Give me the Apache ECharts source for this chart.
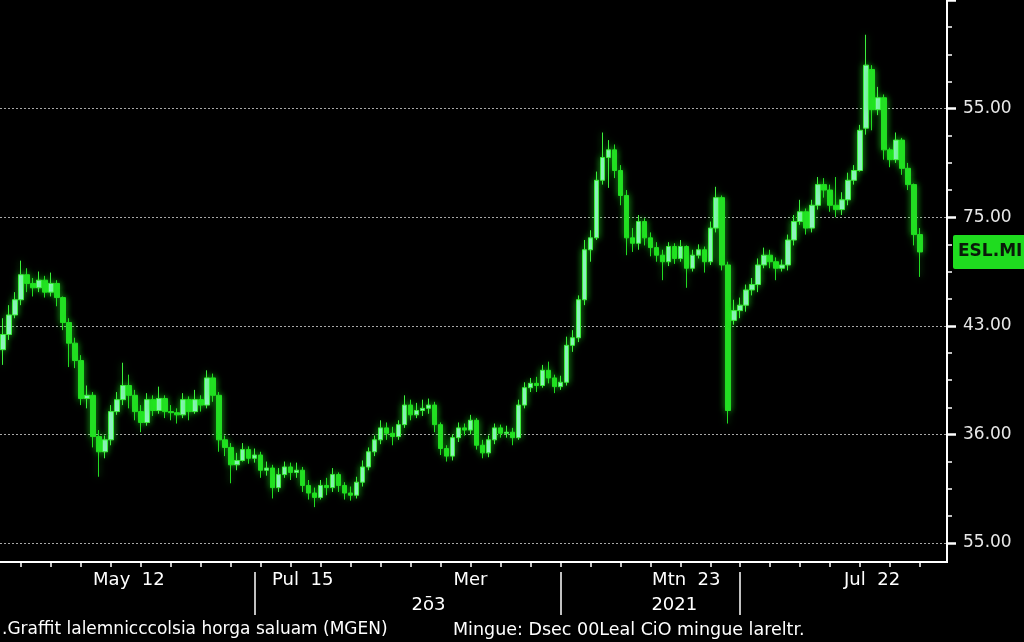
<!DOCTYPE html>
<html><head><meta charset="utf-8">
<script src="https://cdn.jsdelivr.net/npm/echarts@6/dist/echarts.min.js"></script>
<style>html,body{margin:0;padding:0;background:#000;}#c{width:1024px;height:642px;}</style>
</head><body><div id="c"></div>
<script>
const opens = [27.8,29.2,31.0,32.4,34.7,33.9,33.5,34.2,33.1,33.9,
32.6,30.3,28.4,26.8,23.3,23.6,19.8,18.4,19.5,22.1,
23.2,24.5,23.6,22.1,21.1,23.2,22.2,23.3,22.1,22.0,
21.8,23.2,22.1,23.2,22.7,25.2,23.6,19.5,18.8,17.2,
17.6,18.6,17.8,18.1,16.7,16.9,15.1,16.3,17.0,16.5,
16.7,15.3,14.6,14.2,15.3,15.1,16.3,15.3,14.6,14.4,
15.6,17.0,18.4,19.5,20.6,20.1,19.8,20.9,22.7,21.8,
22.2,22.4,22.7,20.9,18.7,18.0,19.7,20.6,20.4,21.3,
19.0,18.3,19.5,20.6,20.1,20.2,19.7,22.7,24.3,24.7,
24.5,25.9,25.2,24.4,24.8,28.2,28.9,32.4,37.0,38.1,
43.4,45.5,46.2,44.3,42.0,38.1,37.6,39.6,38.1,37.2,
36.5,35.9,37.3,36.2,37.3,35.3,36.5,37.0,35.9,39.0,
41.8,35.6,30.5,31.4,31.9,33.3,33.8,35.6,36.5,35.9,
35.3,35.6,37.9,39.6,40.5,39.0,41.1,43.0,42.5,41.1,
40.7,41.6,43.4,44.3,48.2,53.6,49.9,51.0,46.2,45.3,
47.1,44.5,43.0,38.4];
const closes = [29.2,31.0,32.4,34.7,33.9,33.5,34.2,33.1,33.9,32.6,
30.3,28.4,26.8,23.3,23.6,19.8,18.4,19.5,22.1,23.2,
24.5,23.6,22.1,21.1,23.2,22.2,23.3,22.1,22.0,21.8,
23.2,22.1,23.2,22.7,25.2,23.6,19.5,18.8,17.2,17.6,
18.6,17.8,18.1,16.7,16.9,15.1,16.3,17.0,16.5,16.7,
15.3,14.6,14.2,15.3,15.1,16.3,15.3,14.6,14.4,15.6,
17.0,18.4,19.5,20.6,20.1,19.8,20.9,22.7,21.8,22.2,
22.4,22.7,20.9,18.7,18.0,19.7,20.6,20.4,21.3,19.0,
18.3,19.5,20.6,20.1,20.2,19.7,22.7,24.3,24.7,24.5,
25.9,25.2,24.4,24.8,28.2,28.9,32.4,37.0,38.1,43.4,
45.5,46.2,44.3,42.0,38.1,37.6,39.6,38.1,37.2,36.5,
35.9,37.3,36.2,37.3,35.3,36.5,37.0,35.9,39.0,41.8,
35.6,22.2,31.4,31.9,33.3,33.8,35.6,36.5,35.9,35.3,
35.6,37.9,39.6,40.5,39.0,41.1,43.0,42.5,41.1,40.7,
41.6,43.4,44.3,48.0,54.0,49.9,51.0,46.2,45.3,47.1,
44.5,43.0,38.4,36.8];
const lows = [26.4,28.7,30.7,31.9,33.1,32.7,33.1,32.6,32.7,31.8,
29.6,26.2,26.1,22.7,22.4,18.8,16.1,17.8,19.0,21.8,
22.7,22.4,21.3,20.2,20.8,21.7,21.9,21.5,21.3,21.0,
21.5,21.3,21.9,22.1,22.4,23.0,18.4,18.0,15.5,16.7,
17.5,17.3,17.4,16.0,16.2,14.1,14.7,16.0,15.8,16.0,
14.7,14.0,13.3,14.0,14.4,14.7,14.7,14.0,13.9,14.1,
15.2,16.7,18.0,19.1,19.5,19.0,19.5,20.6,21.3,21.5,
21.7,21.9,20.2,18.1,17.5,17.6,19.3,19.9,20.0,18.6,
17.8,17.9,19.1,19.7,19.7,19.0,19.5,22.4,23.9,23.9,
24.3,24.7,23.8,24.1,24.5,27.6,28.5,31.9,35.9,37.9,
43.0,42.7,43.6,41.1,36.5,36.8,37.0,37.4,36.4,35.9,
34.2,35.5,35.7,35.9,33.5,35.0,36.2,34.9,35.6,38.6,
35.1,21.0,30.1,30.7,31.3,32.8,33.1,35.3,35.3,34.2,
35.0,35.1,37.4,39.3,38.4,38.6,40.7,41.8,40.5,40.0,
40.2,41.1,43.0,44.2,47.6,48.0,49.4,45.3,44.6,45.0,
43.9,42.5,37.4,34.5];
const highs = [30.7,31.9,33.1,36.0,35.3,34.4,35.0,34.6,34.9,34.2,
32.7,30.7,28.9,27.3,24.5,23.9,20.4,19.9,22.7,23.9,
26.6,25.5,24.1,22.7,23.8,23.6,24.4,23.6,22.7,22.4,
23.8,23.5,24.1,23.6,25.9,25.6,23.9,19.9,19.2,18.3,
19.2,18.9,18.7,18.4,17.5,17.2,16.9,17.5,17.4,17.4,
17.0,15.8,15.1,15.8,16.0,16.9,16.5,15.6,15.2,16.1,
17.6,18.8,19.9,21.3,21.1,20.7,21.3,23.6,23.2,22.9,
23.2,23.3,23.0,21.1,19.0,20.0,21.1,21.0,21.8,21.5,
19.5,19.9,21.0,20.9,20.8,20.6,23.2,24.8,25.2,25.3,
26.4,26.7,25.5,25.4,29.0,29.6,32.8,37.9,38.8,44.2,
47.8,47.1,46.7,44.8,42.5,39.0,40.2,39.9,38.6,37.7,
37.0,37.7,37.6,37.9,37.4,37.0,37.5,37.3,39.6,42.8,
42.0,35.9,32.4,32.6,33.8,34.4,36.2,37.2,37.0,36.3,
36.1,38.4,40.2,41.6,40.8,41.6,43.7,43.6,43.0,43.7,
42.3,44.1,44.8,48.5,56.8,54.0,52.0,51.3,46.4,47.8,
47.3,45.0,43.1,39.0];

const yTickValues = [10, 20, 30, 40, 50];
const yTickLabels = ['55.00', '36.00', '43.00', '75.00', '55.00'];
const monthLabels = ['May  12', 'Pul  15', 'Mer', 'Mtn  23', 'Jul  22'];
const monthLabelAt = [21, 50, 78, 114, 145];
const yearLabels = ['2ō3', '2021'];
const yearLabelAt = [71, 112];
const separatorAt = [42, 93, 123];
const tagText = 'ESL.MI';
const footerLeft = '.Graffit lalemnicccolsia horga saluam (MGEN)';
const footerRight = 'Mingue: Dsec 00Leal CiO mingue lareltr.';
const slotCount = 158;

const categories = Array.from({length: slotCount}, (_, i) => 'd' + i);
const candles = opens.map((o, i) => [o, closes[i], lows[i], highs[i]]);
const FONT = 'DejaVu Sans';

const chart = echarts.init(document.getElementById('c'), null, {renderer: 'canvas'});
chart.setOption({
  backgroundColor: '#000',
  animation: false,
  title: [
    {text: footerLeft, left: 2, top: 621, padding: 0, textStyle: {color: '#fff', fontSize: 17, fontWeight: 'normal', fontFamily: FONT}},
    {text: footerRight, left: 453, top: 621, padding: 0, textStyle: {color: '#fff', fontSize: 17.5, fontWeight: 'normal', fontFamily: FONT}}
  ],
  grid: {left: 0, right: 77, top: 0, bottom: 99},
  xAxis: [
    {
      type: 'category', data: categories, boundaryGap: true, position: 'bottom', offset: 19,
      axisLine: {show: true, lineStyle: {color: '#fff', width: 2}},
      axisTick: {show: true, alignWithLabel: true, interval: (i) => i % 5 === 3, length: 5, lineStyle: {color: '#fff', width: 1.5}},
      axisLabel: {interval: (i) => monthLabelAt.includes(i), formatter: (v, i) => monthLabels[monthLabelAt.indexOf(i)] || '',
        color: '#fff', fontSize: 18, fontFamily: FONT, margin: 9},
      splitLine: {show: false}
    },
    {
      type: 'category', data: categories, boundaryGap: true, position: 'bottom', offset: 19,
      axisLine: {show: false}, axisTick: {show: false},
      axisLabel: {interval: (i) => yearLabelAt.includes(i), formatter: (v, i) => yearLabels[yearLabelAt.indexOf(i)] || '',
        color: '#fff', fontSize: 18, fontFamily: FONT, margin: 34},
      splitLine: {show: false}
    },
    {
      type: 'category', data: categories, boundaryGap: true, position: 'bottom', offset: 29,
      axisLine: {show: false},
      axisTick: {show: true, alignWithLabel: true, interval: (i) => separatorAt.includes(i), length: 43, lineStyle: {color: '#fff', width: 1.5}},
      axisLabel: {show: false}, splitLine: {show: false}
    }
  ],
  yAxis: {
    type: 'value', position: 'right', min: 10, max: 60, interval: 10,
    axisLine: {show: true, lineStyle: {color: '#fff', width: 2}},
    axisTick: {show: true, length: 9, lineStyle: {color: '#fff', width: 2.5}},
    minorTick: {show: true, splitNumber: 4, length: 5, lineStyle: {color: '#fff', width: 1.5}},
    axisLabel: {color: '#e8e8e8', fontSize: 17, fontFamily: FONT, margin: 16,
      formatter: (v) => { const k = yTickValues.indexOf(v); return k >= 0 ? yTickLabels[k] : ''; }},
    splitLine: {show: true, showMaxLine: false, lineStyle: {color: '#a8a8a8', type: [2, 2], width: 1}},
    minorSplitLine: {show: false}
  },
  graphic: [
    {type: 'line', shape: {x1: 947, y1: 542, x2: 947, y2: 563}, style: {stroke: '#fff', lineWidth: 2}, silent: true}
  ],
  series: [{
    type: 'candlestick',
    data: candles,
    barWidth: 5,
    itemStyle: {
      color: '#9af2cf', borderColor: '#3cf03c',
      color0: '#22dc22', borderColor0: '#22dc22',
      borderWidth: 1,
      shadowBlur: 7, shadowColor: 'rgba(40,255,40,0.6)'
    },
    markLine: {
      silent: true, symbol: 'none', animation: false,
      lineStyle: {color: 'rgba(0,0,0,0)', width: 0, type: 'solid'},
      data: [{yAxis: closes[closes.length - 1]}],
      label: {show: true, position: 'end', formatter: tagText, distance: 6,
        backgroundColor: '#1fdc1f', color: '#0a1a0a', fontSize: 17, fontWeight: 'bold', fontFamily: FONT,
        padding: [9, 5, 8, 5], borderRadius: 2}
    }
  }]
});
</script></body></html>
